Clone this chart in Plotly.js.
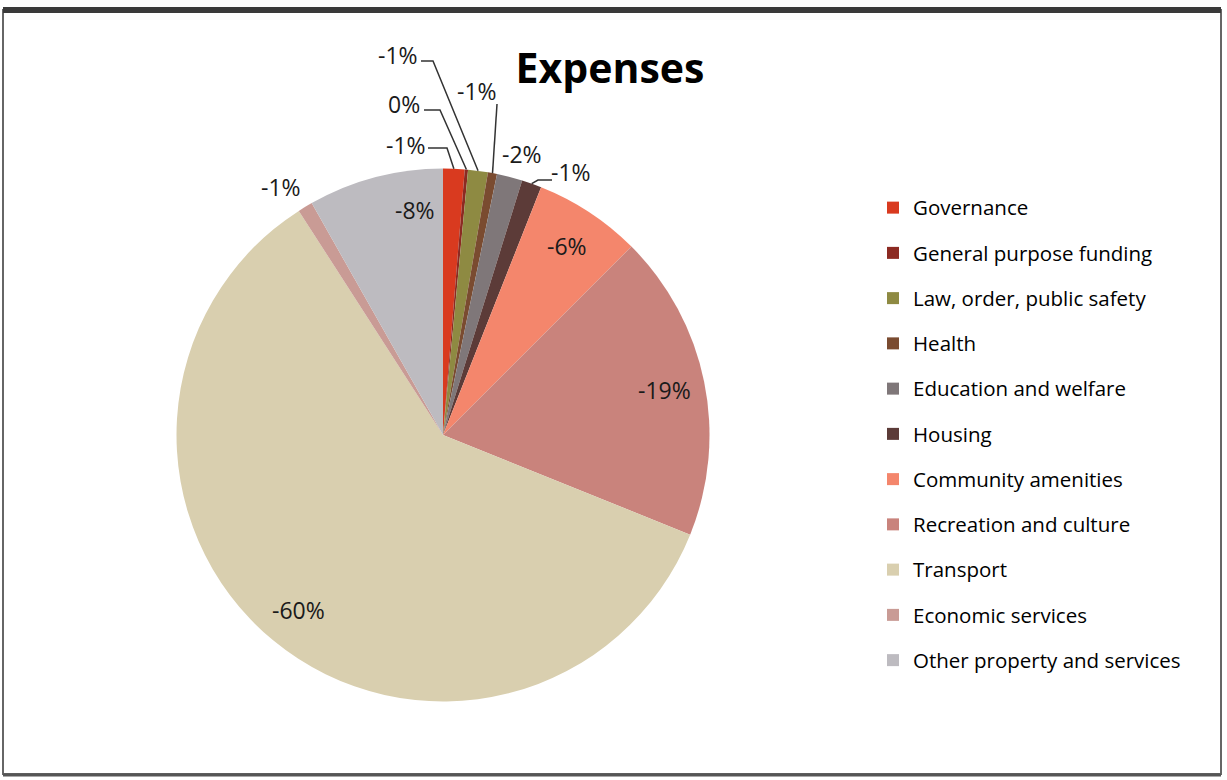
<!DOCTYPE html>
<html><head><meta charset="utf-8">
<script src="https://cdn.plot.ly/plotly-3.0.1.min.js"></script>
<style>html,body{margin:0;padding:0;background:#fff}#chart{width:1227px;height:780px}</style>
</head><body><div id="chart"></div>
<script>
// ---- data ----
const categories = ["Governance","General purpose funding","Law, order, public safety","Health","Education and welfare","Housing","Community amenities","Recreation and culture","Transport","Economic services","Other property and services"];
const shares = [1.3, 0.2, 1.2, 0.55, 1.55, 1.2, 6.5, 18.6, 59.8, 0.9, 8.2];
const pctLabels = ["-1%","0%","-1%","-1%","-2%","-1%","-6%","-19%","-60%","-1%","-8%"];
const sliceColors = ["#d93a1f","#8c2a22","#8e8a42","#7a4b30","#7f7779","#5c3b38","#f4866c","#c9837c","#d9cfaf","#c99b95","#bdbbc0"];

// ---- layout helpers (pixels) ----
const W = 1227, H = 780;
const pie = {x0: 176.5, x1: 709.5, y0: 168.5, y1: 701.5};
const cx = (pie.x0 + pie.x1) / 2, cy = (pie.y0 + pie.y1) / 2, R = (pie.x1 - pie.x0) / 2;
const px = x => x / W, py = y => 1 - y / H;

// label placement: inside labels at a radius fraction of mid-angle; outside ones at a spot with leader line
const labelPlace = [
  {at: [406, 145], line: [[428, 148], [447, 148]]},
  {at: [404, 104], line: [[424, 110], [440, 110]]},
  {at: [398, 55],  line: [[421, 61], [433, 61]]},
  {at: [477, 91],  line: [[497, 104]]},
  {at: [522, 154]},
  {at: [571, 172], line: [[552, 180], [538, 180]]},
  {r: 0.85},
  {r: 0.85},
  {r: 0.85},
  {at: [281, 187]},
  {at: [415, 210]}
];

const total = shares.reduce((a, b) => a + b, 0);
let cum = 0;
const annotations = [], shapes = [];
shares.forEach((v, i) => {
  const mid = (cum + v / 2) / total * 2 * Math.PI;
  cum += v;
  const p = labelPlace[i];
  let lx, ly;
  if (p.r) { lx = cx + p.r * R * Math.sin(mid); ly = cy - p.r * R * Math.cos(mid); }
  else { lx = p.at[0]; ly = p.at[1]; }
  annotations.push({text: pctLabels[i], x: px(lx), y: py(ly), xref: 'paper', yref: 'paper',
    xanchor: 'center', yanchor: 'middle', showarrow: false,
    font: {family: 'Open Sans', size: 23, color: '#1a1a1a'}});
  if (p.line) {
    const ex = cx + R * Math.sin(mid), ey = cy - R * Math.cos(mid);
    const pts = p.line.concat([[ex, ey]]);
    const d = pts.map((q, k) => (k ? 'L' : 'M') + px(q[0]) + ',' + py(q[1])).join(' ');
    shapes.push({type: 'path', path: d, xref: 'paper', yref: 'paper', line: {color: '#333', width: 1.5}});
  }
});

// frame
shapes.push({type: 'rect', xref: 'paper', yref: 'paper', x0: px(3), x1: px(1221), y0: py(774), y1: py(10), line: {color: '#666', width: 2}});
shapes.push({type: 'line', xref: 'paper', yref: 'paper', x0: px(3), x1: px(1221), y0: py(10), y1: py(10), line: {color: '#3a3a3a', width: 6}});
shapes.push({type: 'line', xref: 'paper', yref: 'paper', x0: px(3), x1: px(1221), y0: py(775), y1: py(775), line: {color: '#555', width: 3}});

const legendNames = categories.map(n => '<span style="font-size:20.5px;baseline-shift:5px">' + n + '</span>');

const data = [{
  type: 'pie',
  values: shares,
  labels: legendNames,
  sort: false,
  direction: 'clockwise',
  rotation: 0,
  textinfo: 'none',
  marker: {colors: sliceColors, line: {width: 0}},
  domain: {x: [px(pie.x0), px(pie.x1)], y: [py(pie.y1), py(pie.y0)]},
  hoverinfo: 'skip'
}];

const layout = {
  width: W, height: H,
  margin: {l: 0, r: 0, t: 0, b: 0},
  paper_bgcolor: '#fff',
  title: {text: '<b>Expenses</b>', font: {family: 'Open Sans', size: 41, color: '#000'}, x: 610 / W, xanchor: 'center', y: py(69), yanchor: 'middle'},
  showlegend: true,
  legend: {x: px(873), xanchor: 'left', y: py(180), yanchor: 'top', font: {family: 'Open Sans', size: 32.5, color: '#000'}, bgcolor: 'rgba(0,0,0,0)'},
  annotations: annotations,
  shapes: shapes
};

Plotly.newPlot('chart', data, layout, {displayModeBar: false, staticPlot: true});
</script>
</body></html>
